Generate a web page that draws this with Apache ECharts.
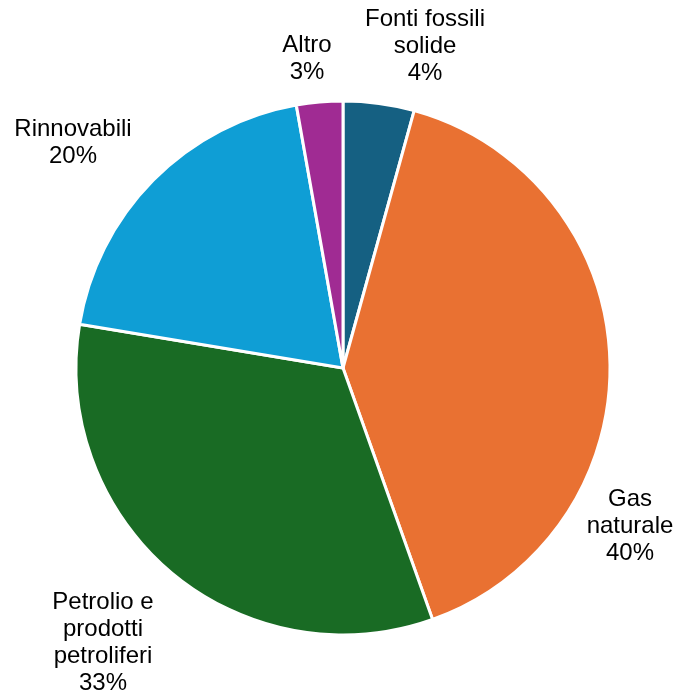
<!DOCTYPE html>
<html><head><meta charset="utf-8">
<script src="https://cdn.jsdelivr.net/npm/echarts@6/dist/echarts.min.js"></script>
<style>html,body{margin:0;padding:0;background:#fff}#c{width:677px;height:694px}</style>
</head><body><div id="c"></div>
<script>
const categories = ["Fonti fossili solide", "Gas naturale", "Petrolio e prodotti petroliferi", "Rinnovabili", "Altro"];
const labelLines = ["Fonti fossili\nsolide", "Gas\nnaturale", "Petrolio e\nprodotti\npetroliferi", "Rinnovabili", "Altro"];
const values = [4.3, 40.3, 33.1, 19.6, 2.8];
const colors = ["#156082", "#E97132", "#196B24", "#0F9ED5", "#A02B93"];
// label anchor (centre of text block) in px
const labelAnchors = [[425, 46], [630, 526], [103, 643], [73, 143], [307, 59]];

const chart = echarts.init(document.getElementById('c'), null, {renderer: 'canvas'});
chart.setOption({
  animation: false,
  series: [{
    type: 'pie',
    center: [343, 368],
    radius: 267,
    startAngle: 90,
    clockwise: true,
    data: categories.map((c, i) => ({name: c, value: values[i], itemStyle: {color: colors[i]}})),
    itemStyle: {borderColor: '#fff', borderWidth: 3},
    label: {
      show: true,
      position: 'outside',
      formatter: p => labelLines[p.dataIndex] + '\n' + Math.round(p.value) + '%',
      fontFamily: 'Liberation Sans, Arial, sans-serif',
      fontSize: 24,
      lineHeight: 27,
      color: '#000',
      align: 'center',
      verticalAlign: 'middle',
      overflow: 'none'
    },
    labelLine: {show: false},
    labelLayout: p => ({
      x: labelAnchors[p.dataIndex][0],
      y: labelAnchors[p.dataIndex][1],
      align: 'center',
      verticalAlign: 'middle',
      hideOverlap: false,
      moveOverlap: null
    })
  }]
});
</script></body></html>
